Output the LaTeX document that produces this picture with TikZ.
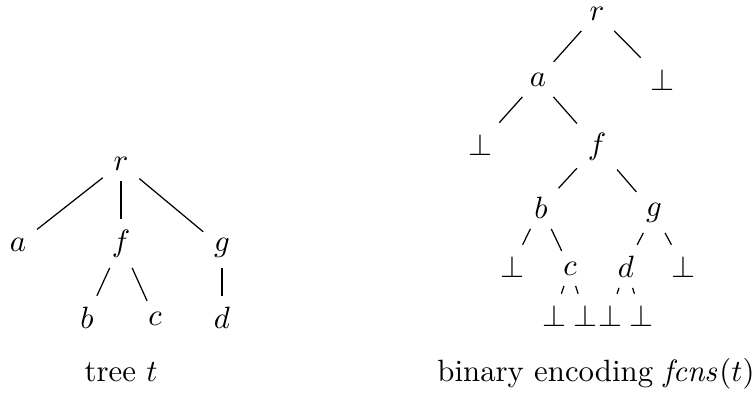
\documentclass[tikz,border=0pt]{standalone}
\begin{document}
\begin{tikzpicture}[x=0.3247pt,y=-0.3247pt,
  tn/.style={anchor=base},
  br/.style={draw,line width=0.4pt}]
\useasboundingbox (0,0) rectangle (756,397);
% left tree
\node[tn] (lr) at (121,170) {$r$};
\node[tn] (la) at (18,251) {$a$};
\node[tn] (lf) at (121,251) {$f$};
\node[tn] (lg) at (222,251) {$g$};
\node[tn] (lb) at (87,328) {$b$};
\node[tn] (lc) at (155,325) {$c$};
\node[tn] (ld) at (222,328) {$d$};
\node[tn] (lcap) at (121,381) {tree $t$};
\draw[br] (lr) -- (la);
\draw[br] (lr) -- (lf);
\draw[br] (lr) -- (lg);
\draw[br] (lf) -- (lb);
\draw[br] (lf) -- (lc);
\draw[br] (lg) -- (ld);
% right tree
\node[tn] (rr) at (597,20) {$r$};
\node[tn] (ra) at (538,86) {$a$};
\node[tn] (rb1) at (662,90) {$\bot$};
\node[tn] (rb2) at (480,155) {$\bot$};
\node[tn] (rf) at (597,154) {$f$};
\node[tn] (rb) at (541,218) {$b$};
\node[tn] (rg) at (654,216) {$g$};
\node[tn] (rb3) at (512,277) {$\bot$};
\node[tn] (rc) at (570,275) {$c$};
\node[tn] (rd) at (626,277) {$d$};
\node[tn] (rb4) at (683,277) {$\bot$};
\node[tn] (rb5) at (554,326) {$\bot$};
\node[tn] (rb6) at (585,326) {$\bot$};
\node[tn] (rb7) at (610,326) {$\bot$};
\node[tn] (rb8) at (641,326) {$\bot$};
\node[tn] (rcap) at (596,381) {binary encoding $\mathit{fcns}(t)$};
\draw[br] (rr) -- (ra);
\draw[br] (rr) -- (rb1);
\draw[br] (ra) -- (rb2);
\draw[br] (ra) -- (rf);
\draw[br] (rf) -- (rb);
\draw[br] (rf) -- (rg);
\draw[br] (rb) -- (rb3);
\draw[br] (rb) -- (rc);
\draw[br] (rg) -- (rd);
\draw[br] (rg) -- (rb4);
\draw[br] (rc) -- (rb5);
\draw[br] (rc) -- (rb6);
\draw[br] (rd) -- (rb7);
\draw[br] (rd) -- (rb8);
\end{tikzpicture}
\end{document}
